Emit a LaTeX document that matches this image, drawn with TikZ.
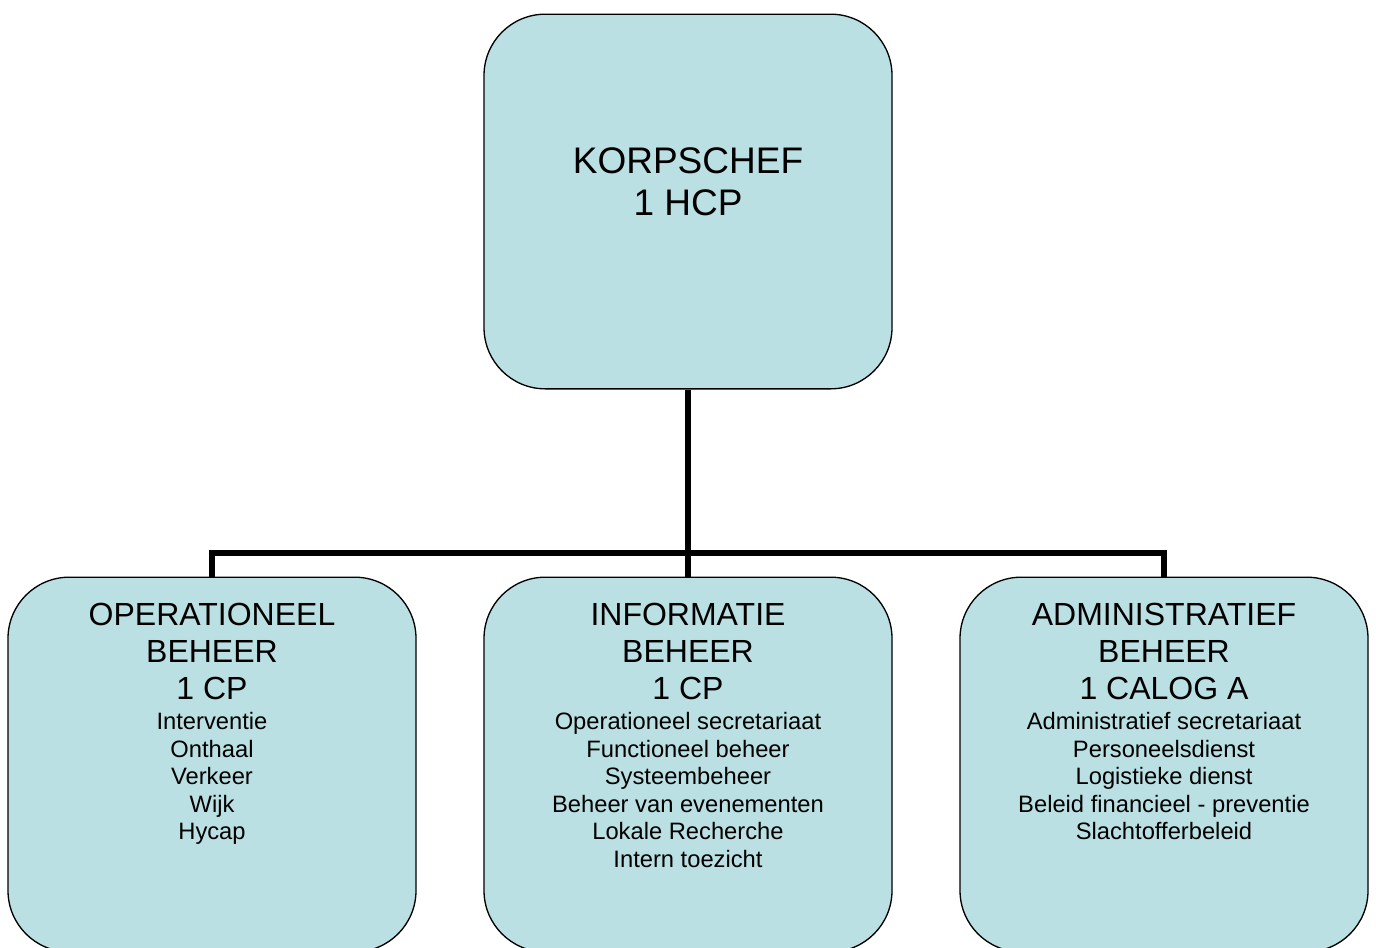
\documentclass[tikz,border=0pt]{standalone}
\usepackage{fontspec}
\setmainfont{Liberation Sans}
\usetikzlibrary{positioning}
\definecolor{boxfill}{RGB}{187,224,227}
\begin{document}
\begin{tikzpicture}[x=0.75pt, y=-0.75pt,
	unit/.style={draw, line width=1pt, fill=boxfill, rounded corners=46pt, minimum width=306pt, minimum height=281pt, inner sep=0pt},
	chief/.style={font=\fontsize{27.75}{31.5}\selectfont, align=center, inner sep=0pt},
	head/.style={font=\fontsize{24}{27.75}\selectfont, align=center, inner sep=0pt},
	task/.style={font=\fontsize{17.8}{20.6}\selectfont, align=center, inner sep=0pt},
	link/.style={line width=4pt}]
	\useasboundingbox (0, 0) rectangle (1376, 947);
	\clip (0, 0) rectangle (1376, 947);
	% boxes
	\node [unit] (chef) at (688, 201.5) {};
	\node [unit] (ops) at (212, 764.5) {};
	\node [unit] (info) at (688, 764.5) {};
	\node [unit] (adm) at (1164, 764.5) {};
	% connectors
	\coordinate (split) at (688, 553);
	\draw [link] (chef.south) -- (split);
	\foreach \b in {ops,info,adm} {
		\draw [link] (split) -| (\b.north);
	}
	% texts
	\node [chief, below=100.2pt of chef.north] (cheftext) {KORPSCHEF\\1 HCP};
	\node [head, below=19.75pt of ops.north] (opshead) {OPERATIONEEL\\BEHEER\\1 CP};
	\node [head, below=19.75pt of info.north] (infohead) {INFORMATIE\\BEHEER\\1 CP};
	\node [head, below=19.75pt of adm.north] (admhead) {ADMINISTRATIEF\\BEHEER\\1 CALOG A};
	\node [task, below=101.8pt of ops.north] (opstask) {Interventie\\Onthaal\\Verkeer\\Wijk\\Hycap};
	\node [task, below=101.8pt of info.north] (infotask) {Operationeel secretariaat\\Functioneel beheer\\Systeembeheer\\Beheer van evenementen\\Lokale Recherche\\Intern toezicht};
	\node [task, below=101.8pt of adm.north] (admtask) {Administratief secretariaat\\Personeelsdienst\\Logistieke dienst\\Beleid financieel - preventie\\Slachtofferbeleid};
\end{tikzpicture}
\end{document}
